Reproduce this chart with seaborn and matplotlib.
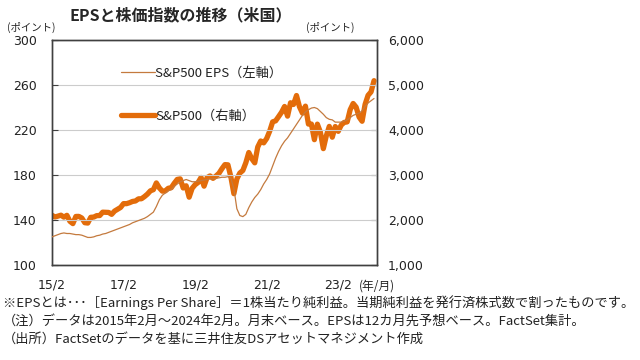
import numpy as np
import pandas as pd
import matplotlib
matplotlib.use("Agg")
import matplotlib.pyplot as plt
import seaborn as sns
from matplotlib.lines import Line2D

# ---- data (month-end, 2015/2 - 2024/2) ----
sp500 = [
    2104, 2068, 2086, 2107, 2063, 2104, 1972, 1920, 2079, 2080, 2044,
    1940, 1932, 2060, 2065, 2097, 2099, 2174, 2171, 2168, 2126, 2199, 2239,
    2279, 2364, 2363, 2384, 2412, 2423, 2470, 2472, 2519, 2575, 2648, 2674,
    2824, 2714, 2641, 2648, 2705, 2718, 2816, 2902, 2914, 2712, 2760, 2507,
    2704, 2784, 2834, 2946, 2752, 2942, 2980, 2926, 2977, 3038, 3141, 3231,
    3226, 2954, 2585, 2912, 3044, 3100, 3271, 3500, 3363, 3270, 3622, 3756,
    3714, 3811, 3973, 4181, 4204, 4298, 4395, 4523, 4308, 4605, 4567, 4766,
    4516, 4374, 4530, 4132, 4132, 3785, 4130, 3955, 3586, 3872, 4080, 3840,
    4077, 3970, 4109, 4169, 4180, 4450, 4589, 4508, 4288, 4194, 4568, 4770,
    4846, 5096,
]
eps = [
    125, 126, 127, 128, 128.5, 128, 128, 127.5, 127, 127, 126.5,
    125.5, 124.5, 124.5, 125, 126, 126.5, 127.5, 128, 129, 130, 131, 132,
    133, 134, 135, 136, 137.5, 138.5, 139.5, 140.5, 141.5, 143, 145, 147,
    152, 158, 162, 164, 166, 167, 170, 172, 174, 175, 176, 175,
    174, 174, 174.5, 175, 175.5, 176, 176.5, 176.5, 177, 177.5, 178, 178,
    178.5, 177, 168, 150, 144, 143, 145, 151, 156, 160, 163, 167,
    172, 176, 181, 188, 195, 201, 206, 210, 213, 217, 221, 225,
    229, 233, 236, 238, 239.5, 240, 239, 236.5, 234, 231, 229.5, 229,
    227, 227, 227, 228, 229, 231, 233, 234, 235, 237, 241, 244,
    246, 248,
]
xtick_labels = ["15/2", "17/2", "19/2", "21/2", "23/2"]
left_ticks = [100, 140, 180, 220, 260, 300]
right_ticks = [1000, 2000, 3000, 4000, 5000, 6000]

df = pd.DataFrame({"m": np.arange(len(sp500)), "sp500": sp500, "eps": eps})

JP = ["Noto Sans CJK JP", "DejaVu Sans"]
NUM = ["DejaVu Sans", "Noto Sans CJK JP"]

sns.set_style("white")
plt.rcParams["font.family"] = NUM

C_THICK = "#E36C0A"
C_THIN = "#C47A3E"
SPINE = "#404040"
TXT = "#222222"

fig = plt.figure(figsize=(6.4, 3.6), dpi=100)
ax = fig.add_axes([52 / 640, 1 - 265 / 360, (377 - 52) / 640, (265 - 40) / 360])
ax2 = ax.twinx()

sns.lineplot(data=df, x="m", y="eps", ax=ax, color=C_THIN, linewidth=0.9, zorder=3)
sns.lineplot(data=df, x="m", y="sp500", ax=ax2, color=C_THICK, linewidth=3.8, zorder=2)

ax.set_ylim(100, 300)
ax2.set_ylim(1000, 6000)
ax.set_xlim(0, 109)
ax.set_yticks(left_ticks)
ax2.set_yticks(right_ticks)
ax.set_yticklabels([str(v) for v in left_ticks], fontsize=9, color=TXT)
ax2.set_yticklabels([f"{v:,}" for v in right_ticks], fontsize=9, color=TXT)
ax.set_xticks([0, 24, 48, 72, 96])
ax.set_xticklabels(xtick_labels, fontsize=9, color=TXT)
ax.set_xlabel("")
ax.set_ylabel("")
ax2.set_ylabel("")

ax.grid(axis="y", color="#CCCCCC", linewidth=0.8)
ax.set_axisbelow(True)
ax.tick_params(axis="y", direction="in", length=4, color=SPINE, pad=11)
ax.tick_params(axis="x", direction="in", length=4, color=SPINE, pad=10)
ax2.tick_params(axis="y", direction="in", length=4, color=SPINE, pad=8)
for a in (ax, ax2):
    for s in a.spines.values():
        s.set_color(SPINE)
        s.set_linewidth(1.0)

ax.set_zorder(ax2.get_zorder() + 1)
ax.patch.set_visible(False)

handles = [Line2D([], [], color=C_THIN, linewidth=0.9),
           Line2D([], [], color=C_THICK, linewidth=3.8)]
labels = ["S&P500 EPS（左軸）", "S&P500（右軸）"]
leg = ax.legend(handles, labels, loc="upper left", bbox_to_anchor=(0.175, 0.935),
                frameon=False, handlelength=2.6, handletextpad=0.0,
                labelspacing=2.3, prop={"family": JP, "size": 9.5})
for t in leg.get_texts():
    t.set_color(TXT)

fig.text(181 / 640, 1 - 15 / 360, "EPSと株価指数の推移（米国）", ha="center", va="center",
         fontsize=11.5, fontweight="bold", family=JP)
fig.text(31 / 640, 1 - 27 / 360, "(ポイント)", ha="center", va="center", fontsize=7.5,
         family=JP, color=TXT)
fig.text(330 / 640, 1 - 27 / 360, "(ポイント)", ha="center", va="center", fontsize=7.5,
         family=JP, color=TXT)
fig.text(377 / 640, 1 - 286 / 360, "(年/月)", ha="center", va="center", fontsize=8.5,
         family=JP, color=TXT)

notes = [
    "※EPSとは･･･［Earnings Per Share］＝1株当たり純利益。当期純利益を発行済株式数で割ったものです。",
    "（注）データは2015年2月～2024年2月。月末ベース。EPSは12カ月先予想ベース。FactSet集計。",
    "（出所）FactSetのデータを基に三井住友DSアセットマネジメント作成",
]
for i, t in enumerate(notes):
    fig.text(3 / 640, 1 - (303 + 18 * i) / 360, t, ha="left", va="center", fontsize=9.5,
             family=JP, color=TXT)

fig.savefig("out.png", dpi=100)
